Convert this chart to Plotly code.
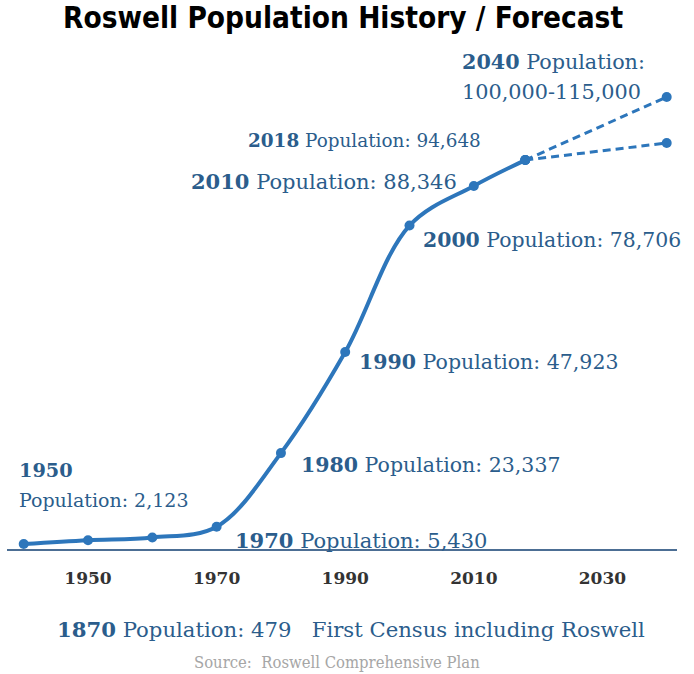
import plotly.graph_objects as go

# Data
years = [1940, 1950, 1960, 1970, 1980, 1990, 2000, 2010, 2018]
population = [1200, 2123, 2800, 5430, 23337, 47923, 78706, 88346, 94648]
forecast_year = [2018, 2040]
forecast_high = [94648, 110000]
forecast_low = [94648, 98800]
tick_years = [1950, 1970, 1990, 2010, 2030]

label_texts = [
    "<b>2040</b> Population:",
    "100,000-115,000",
    "<b>2018</b> Population: 94,648",
    "<b>2010</b> Population: 88,346",
    "<b>2000</b> Population: 78,706",
    "<b>1990</b> Population: 47,923",
    "<b>1980</b> Population: 23,337",
    "<b>1950</b>",
    "Population: 2,123",
    "<b>1970</b> Population: 5,430",
    "<b>1870</b> Population: 479   First Census including Roswell",
]
# layout: left x, middle y (pixels), font size
label_pos = [
    (462, 62, 20.7),
    (462, 92, 20.8),
    (248, 140, 18.4),
    (191, 181, 21),
    (423, 240, 20.4),
    (359, 362, 20.5),
    (301, 465, 20.5),
    (19, 470, 19.3),
    (19, 500, 19),
    (235, 540, 21),
    (57, 629, 21.2),
]

W, H = 694, 674
ML, MR, MT, MB = 7, 17, 60, 125
PW, PH = W - ML - MR, H - MT - MB

def px(x):
    return (x - ML) / PW

def py(y):
    return (H - MB - y) / PH

LINE = "#2d76bb"
TEXT = "#2b5d8c"
SERIF = "DejaVu Serif, serif"

fig = go.Figure()
for fy in (forecast_high, forecast_low):
    fig.add_trace(go.Scatter(
        x=forecast_year, y=fy, mode="lines+markers",
        line=dict(color=LINE, width=3, dash="8px,5px"),
        marker=dict(size=10, color=LINE), cliponaxis=False, hoverinfo="skip"))
fig.add_trace(go.Scatter(
    x=years, y=population, mode="lines+markers",
    line=dict(color=LINE, width=4, shape="spline", smoothing=1),
    marker=dict(size=10, color=LINE), cliponaxis=False, hoverinfo="skip"))

anns = []
for text, (x, y, s) in zip(label_texts, label_pos):
    anns.append(dict(text=text, x=px(x), y=py(y), xref="paper", yref="paper",
                     xanchor="left", yanchor="middle", showarrow=False,
                     borderpad=0, borderwidth=0,
                     font=dict(family=SERIF, size=s, color=TEXT)))
anns.append(dict(text="<b>Roswell Population History / Forecast</b>",
                 x=px(342.5), y=py(18), xref="paper", yref="paper",
                 xanchor="center", yanchor="middle", showarrow=False,
                 font=dict(family="Liberation Sans Narrow, DejaVu Sans Condensed, Arial Narrow, sans-serif",
                           size=29.5, color="#000000")))
anns.append(dict(text="Source:  Roswell Comprehensive Plan",
                 x=px(337), y=py(662), xref="paper", yref="paper",
                 xanchor="center", yanchor="middle", showarrow=False,
                 font=dict(family="DejaVu Serif Condensed, DejaVu Serif, serif",
                           size=16.5, color="#a6a6a6")))

fig.update_layout(
    width=W, height=H, margin=dict(l=ML, r=MR, t=MT, b=MB),
    paper_bgcolor="white", plot_bgcolor="white", showlegend=False,
    annotations=anns,
    xaxis=dict(range=[1937.4, 2041.6], tickvals=tick_years,
               ticktext=[f"<b>{t}</b>" for t in tick_years],
               showgrid=False, zeroline=False, showline=True,
               linecolor="#4c6e94", linewidth=2, ticks="",
               ticklabelstandoff=13,
               tickfont=dict(family=SERIF, size=17, color="#333333")),
    yaxis=dict(range=[0, 119000], visible=False),
)
fig.write_html("out.html", config={"displayModeBar": False},
               post_script="document.body.style.margin='0';document.body.style.overflow='hidden';")
